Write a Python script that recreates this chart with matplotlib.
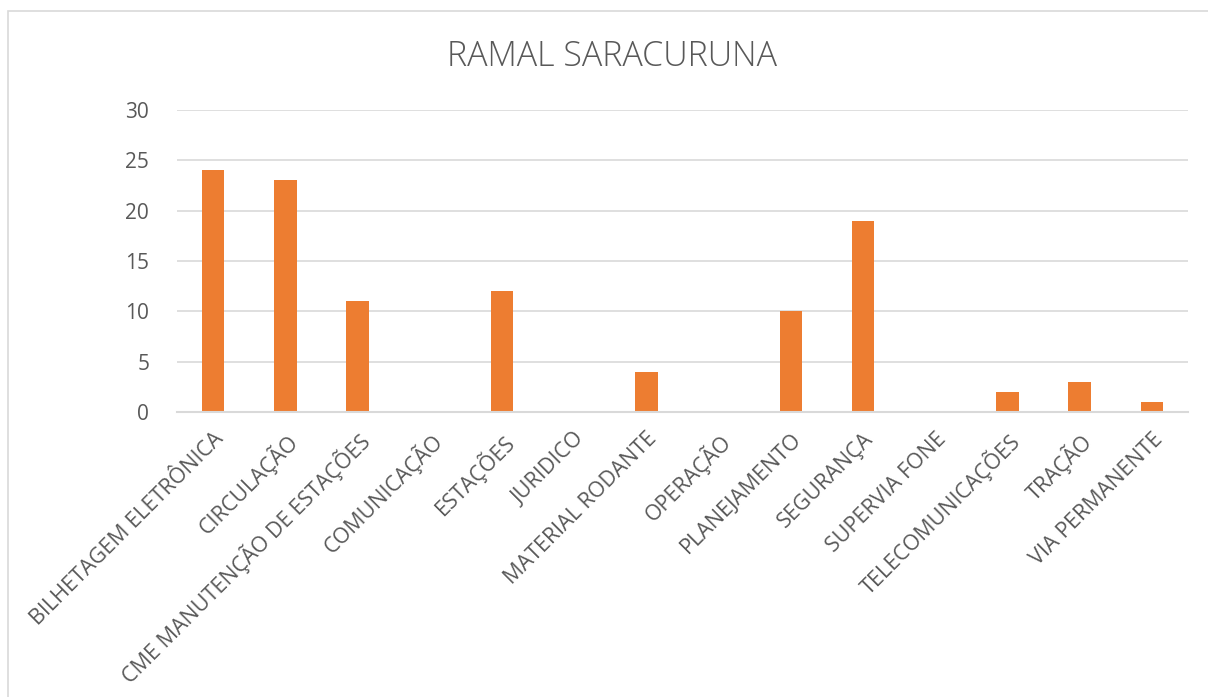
import matplotlib

matplotlib.use("Agg")
import matplotlib.pyplot as plt  # noqa: E402
from matplotlib.patches import Rectangle  # noqa: E402
import numpy as np  # noqa: E402

plt.rcParams["font.family"] = ["Open Sans", "DejaVu Sans"]

CATEGORIES = [
    "BILHETAGEM ELETRÔNICA", "CIRCULAÇÃO", "CME MANUTENÇÃO DE ESTAÇÕES",
    "COMUNICAÇÃO", "ESTAÇÕES", "JURIDICO", "MATERIAL RODANTE", "OPERAÇÃO",
    "PLANEJAMENTO", "SEGURANÇA", "SUPERVIA FONE", "TELECOMUNICAÇÕES",
    "TRAÇÃO", "VIA PERMANENTE",
]
VALUES = [24, 23, 11, 0, 12, 0, 4, 0, 10, 19, 0, 2, 3, 1]
Y_TICKS = [0, 5, 10, 15, 20, 25, 30]
TITLE = "RAMAL SARACURUNA"

BAR = "#ED7D31"
GRID = "#D9D9D9"
TXT = "#595959"

W, H = 1208, 697
fig = plt.figure(figsize=(W / 100, H / 100), dpi=100, facecolor="white")
ax = fig.add_axes([177 / W, 1 - 412 / H, (1188 - 177) / W, (412 - 110) / H])

x = np.arange(len(CATEGORIES))
ax.bar(x, VALUES, width=0.31, color=BAR, zorder=3)
ax.set_xlim(-0.5, len(CATEGORIES) - 0.5)
ax.set_ylim(0, 30)
ax.set_yticks(Y_TICKS)
ax.set_yticklabels([str(t) for t in Y_TICKS], fontsize=15, color=TXT)
ax.set_xticks(x)
ax.set_xticklabels(CATEGORIES, rotation=45, ha="right", rotation_mode="anchor",
                   fontsize=15.5, color=TXT)
ax.tick_params(axis="both", length=0)
ax.tick_params(axis="y", pad=20)
ax.tick_params(axis="x", pad=12)
ax.grid(axis="y", color=GRID, linewidth=1.2, zorder=0)
for s in ["top", "right", "left"]:
    ax.spines[s].set_visible(False)
ax.spines["bottom"].set_color(GRID)
ax.spines["bottom"].set_linewidth(1.5)
ax.spines["bottom"].set_zorder(4)

fig.text(612 / W, 1 - 57 / H, TITLE, ha="center", va="center",
         fontsize=24.5, fontweight="light", color=TXT)

fig.patches.append(Rectangle((8 / W, -0.1), 1.2, 1 - 11 / H + 0.1,
                             transform=fig.transFigure, fill=False,
                             edgecolor=GRID, linewidth=1.2))

fig.savefig("out.png", dpi=100, facecolor="white")
